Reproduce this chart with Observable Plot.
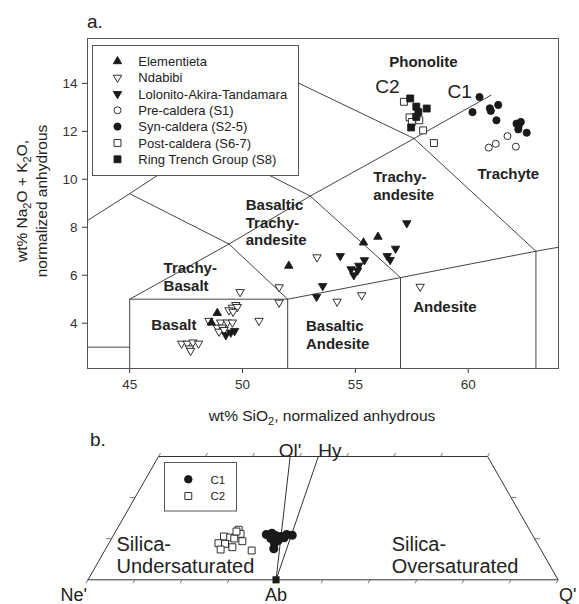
<!DOCTYPE html>
<html>
<head>
<meta charset="utf-8">
<script src="https://cdn.jsdelivr.net/npm/d3@7"></script>
<script src="https://cdn.jsdelivr.net/npm/@observablehq/plot@0.6"></script>
<style>
  html, body { margin: 0; padding: 0; background: #fff; }
  #root { position: relative; width: 579px; height: 604px; overflow: hidden; font-family: "Liberation Sans", Arial, sans-serif; }
  #root svg { position: absolute; left: 0; overflow: visible; }
</style>
</head>
<body>
<div id="root"></div>
<script>
// ---------- (a) Total-alkali vs silica, wt% normalized anhydrous: [SiO2, Na2O+K2O] ----------
const elementieta = [[48.88, 4.42], [48.62, 4.02], [52.05, 6.39], [55.36, 7.36], [56.0, 7.6]];
const ndabibi = [
  [47.3, 3.15], [47.55, 3.15], [47.8, 3.2], [48.05, 3.15], [47.65, 2.95], [47.7, 2.85],
  [49.89, 5.3], [49.7, 4.76], [49.55, 4.65], [49.77, 4.68], [49.4, 4.54], [49.58, 4.48],
  [48.51, 4.1], [49.03, 4.03], [49.33, 4.03], [49.55, 4.03], [48.88, 3.82], [49.1, 3.82],
  [48.96, 3.65], [49.18, 3.72], [50.73, 4.1], [51.62, 5.5], [51.62, 4.86], [53.3, 6.75],
  [54.19, 4.9], [55.28, 5.17], [57.87, 5.52]
];
const lolonito = [
  [49.26, 3.5], [49.48, 3.61], [49.65, 3.68],
  [53.28, 5.1], [53.55, 5.55], [54.33, 6.8], [54.81, 6.25], [54.93, 6.0], [55.1, 6.2],
  [55.15, 6.4], [55.4, 6.63], [56.41, 6.8], [56.54, 6.64], [56.78, 7.11], [57.28, 8.17]
];
const preCaldera = [[60.91, 11.32], [61.22, 11.48], [61.74, 11.8], [62.11, 11.36]];
const synCaldera = [
  [60.5, 13.43], [60.19, 12.8], [60.96, 12.96], [61.0, 12.85], [61.33, 13.1], [61.25, 12.46],
  [62.14, 12.32], [62.33, 12.39], [62.22, 12.08], [62.59, 11.94], [62.23, 12.2]
];
const postCaldera = [[57.15, 13.23], [57.4, 12.58], [57.83, 12.46], [57.5, 12.39], [58.0, 12.04], [58.48, 11.51]];
const ringTrench = [[57.43, 13.37], [57.7, 13.03], [58.16, 12.95], [57.79, 12.8], [57.47, 12.16], [57.7, 12.6]];

// TAS field boundaries (Le Bas et al., 1986), as polylines of [SiO2, alkali]
const tasBoundaries = [
  [[41, 3], [45, 3]],
  [[45, 0], [45, 5]],
  [[45, 5], [52, 5]],
  [[52, 0], [52, 5]],
  [[57, 0], [57, 5.9]],
  [[63, 0], [63, 7]],
  [[52, 5], [57, 5.9], [63, 7], [69, 8]],
  [[45, 5], [49.4, 7.3], [53, 9.3], [57.6, 11.7], [61, 13.5]],
  [[49.4, 7.3], [52, 5]],
  [[53, 9.3], [57, 5.9]],
  [[57.6, 11.7], [63, 7]],
  [[41, 7], [45, 9.4], [48.4, 11.5], [52.5, 14]],
  [[45, 9.4], [49.4, 7.3]],
  [[48.4, 11.5], [53, 9.3]],
  [[52.5, 14], [57.6, 11.7]]
];

// Field names, anchored at the start of the text in data units
const fieldNames = [
  {name: "Phonolite", sio2: 56.5, alk: 14.93},
  {name: "Trachyte", sio2: 60.41, alk: 10.26},
  {name: "Trachy-\nandesite", sio2: 55.79, alk: 9.74},
  {name: "Basaltic\nTrachy-\nandesite", sio2: 50.14, alk: 8.22},
  {name: "Trachy-\nBasalt", sio2: 46.5, alk: 5.95},
  {name: "Basalt", sio2: 45.96, alk: 3.97},
  {name: "Basaltic\nAndesite", sio2: 52.81, alk: 3.53},
  {name: "Andesite", sio2: 57.56, alk: 4.72}
];
const clusterNames = [
  {name: "C2", sio2: 55.88, alk: 13.85},
  {name: "C1", sio2: 59.08, alk: 13.64}
];

const xTicks = [45, 50, 55, 60];
const yTicks = [4, 6, 8, 10, 12, 14];

// ---------- (b) Ne'–Ol'–Q' projection (percent Q' and Ol'; Ne' is the rest) ----------
const c1Q  = [32.43, 33.45, 34.51, 35.81, 36.75, 38.02, 36.61, 35.69, 35.22, 35.75, 33.87];
const c1Ol = [11.02, 11.34, 10.78, 10.54, 11.02, 10.85, 10.22, 9.56, 8.91, 7.54, 10.05];
const c2Q  = [23.65, 25.10, 25.97, 26.86, 26.09, 28.14, 23.29, 24.77, 26.75, 24.53, 31.25, 25.71];
const c2Ol = [10.54, 10.29, 12.17, 11.19, 10.05, 9.39, 8.91, 8.76, 7.93, 7.37, 7.13, 11.75];
// reference compositions
const albite = {q: 40, ol: 0};
const olivine = {q: 0, ol: 100};
const hypersthene = {q: 25, ol: 75};
const olCut = 30; // upper edge of the drawn part of the triangle (Ol' %)
const ternTicks = [0, 10, 20, 30, 40, 50, 60, 70, 80, 90, 100];

// ---------- shared styling ----------
const FONT = "Liberation Sans, Arial, Helvetica, sans-serif";
const INK = "#1a1a1a";
const sqrt3 = Math.sqrt(3);
const triangleDown = {
  draw(context, size) {
    const y = -Math.sqrt(size / (sqrt3 * 3));
    context.moveTo(0, -y * 2);
    context.lineTo(-sqrt3 * y, y);
    context.lineTo(sqrt3 * y, y);
    context.closePath();
  }
};
const groups = [
  {name: "Elementieta", pts: elementieta, symbol: d3.symbolTriangle, filled: true, r: 3.1},
  {name: "Ndabibi", pts: ndabibi, symbol: triangleDown, filled: false, r: 3.1},
  {name: "Lolonito-Akira-Tandamara", pts: lolonito, symbol: triangleDown, filled: true, r: 3.1},
  {name: "Pre-caldera (S1)", pts: preCaldera, symbol: d3.symbolCircle, filled: false, r: 3.5},
  {name: "Syn-caldera (S2-5)", pts: synCaldera, symbol: d3.symbolCircle, filled: true, r: 3.6},
  {name: "Post-caldera (S6-7)", pts: postCaldera, symbol: d3.symbolSquare, filled: false, r: 3.9},
  {name: "Ring Trench Group (S8)", pts: ringTrench, symbol: d3.symbolSquare, filled: true, r: 3.9}
];
const drawOrder = [1, 0, 2, 3, 4, 5, 6];

const boundaryRows = tasBoundaries.flatMap((seg, id) => seg.map(([x, y]) => ({id, x, y})));

const tas = Plot.plot({
  width: 579,
  height: 430,
  marginLeft: 87,
  marginRight: 21,
  marginTop: 38,
  marginBottom: 62,
  style: {fontFamily: FONT, fontSize: "13.5px", color: "#333", background: "transparent"},
  x: {domain: [43.13, 64], ticks: xTicks, tickSize: 5, tickPadding: 6, label: null},
  y: {domain: [2.11, 15.87], ticks: yTicks, tickSize: 5, tickPadding: 5, label: null},
  marks: [
    Plot.frame({stroke: "#555", strokeWidth: 1}),
    Plot.line(boundaryRows, {x: "x", y: "y", z: "id", stroke: "#444", strokeWidth: 1, clip: true}),
    ...drawOrder.map((k) => {
      const g = groups[k];
      return Plot.dot(g.pts, {
        x: (d) => d[0], y: (d) => d[1], symbol: g.symbol, r: g.r,
        fill: g.filled ? INK : "white", stroke: INK, strokeWidth: 0.9
      });
    }),
    Plot.text(fieldNames, {
      x: "sio2", y: "alk", text: "name", textAnchor: "start", fontWeight: "bold",
      fontSize: 15, lineHeight: 1.17, fill: "#222"
    }),
    Plot.text(clusterNames, {
      x: "sio2", y: "alk", text: "name", textAnchor: "start", fontSize: 19, fill: "#222"
    })
  ]
});
tas.style.top = "0px";

// panel letter, axis titles and the legend of panel (a)
{
  const svg = d3.select(tas);
  svg.append("text").attr("x", 87).attr("y", 28).attr("text-anchor", "start")
    .attr("font-size", 19).attr("font-family", FONT).attr("fill", "#222").text("a.");

  const xt = svg.append("text").attr("x", 322).attr("y", 421).attr("text-anchor", "middle")
    .attr("font-size", 15.5).attr("font-family", FONT).attr("fill", "#222");
  xt.append("tspan").text("wt% SiO");
  xt.append("tspan").attr("dy", 4).attr("font-size", 11).text("2");
  xt.append("tspan").attr("dy", -4).text(", normalized anhydrous");

  const yt1 = svg.append("text").attr("transform", "translate(27,201) rotate(-90)")
    .attr("text-anchor", "middle").attr("font-size", 15.5).attr("font-family", FONT).attr("fill", "#222");
  yt1.append("tspan").text("wt% Na");
  yt1.append("tspan").attr("dy", 4).attr("font-size", 11).text("2");
  yt1.append("tspan").attr("dy", -4).text("O + K");
  yt1.append("tspan").attr("dy", 4).attr("font-size", 11).text("2");
  yt1.append("tspan").attr("dy", -4).text("O,");
  svg.append("text").attr("transform", "translate(47,201) rotate(-90)")
    .attr("text-anchor", "middle").attr("font-size", 15.5).attr("font-family", FONT).attr("fill", "#222")
    .text("normalized anhydrous");

  const lg = svg.append("g");
  lg.append("rect").attr("x", 92.5).attr("y", 45.5).attr("width", 206).attr("height", 130)
    .attr("fill", "white").attr("stroke", "#555").attr("stroke-width", 1);
  groups.forEach((g, i) => {
    const cy = 61.3 + i * 16.33;
    lg.append("path")
      .attr("d", d3.symbol(g.symbol, g.r * g.r * Math.PI)())
      .attr("transform", `translate(117.5,${cy})`)
      .attr("fill", g.filled ? INK : "white").attr("stroke", INK).attr("stroke-width", 0.9);
    lg.append("text").attr("x", 138.3).attr("y", cy + 4.6).attr("text-anchor", "start")
      .attr("font-size", 13).attr("font-family", FONT).attr("fill", "#222").text(g.name);
  });
}

// ---------- panel (b) ----------
const tx = (q, ol) => q + ol / 2;   // horizontal position along Ne'–Q'
const c1 = c1Q.map((q, i) => ({q, ol: c1Ol[i]}));
const c2 = c2Q.map((q, i) => ({q, ol: c2Ol[i]}));
const outline = [
  {q: 0, ol: 0}, {q: 100, ol: 0}, {q: 100 - olCut, ol: olCut}, {q: 0, ol: olCut}, {q: 0, ol: 0}
];
const joins = [
  {a: albite, b: olivine},
  {a: albite, b: hypersthene}
];
const olTop = {q: albite.q * (1 - olCut / 100), ol: olCut};
const hyT = olCut / hypersthene.ol;
const hyTop = {q: albite.q + (hypersthene.q - albite.q) * hyT, ol: olCut};

// tick marks around the trapezoid
const tk = 0.85;
const tickMarks = [
  ...ternTicks.map((v) => ({x: v, y: 0, dx: -tk / 2, dy: -tk})),
  ...ternTicks.filter((v) => v <= 100 - olCut).map((v) => ({x: tx(v, olCut), y: olCut, dx: tk / 2, dy: tk})),
  ...ternTicks.filter((v) => v > 0 && v < olCut).map((v) => ({x: tx(0, v), y: v, dx: -1.1, dy: 0})),
  ...ternTicks.filter((v) => v > 0 && v < olCut).map((v) => ({x: tx(100 - v, v), y: v, dx: 1.1, dy: 0}))
];

const vertexLabels = [
  {name: "Ne'", x: tx(0, 0), y: 0, anchor: "end", dx: -1, dy: 15},
  {name: "Ab", x: tx(albite.q, albite.ol), y: 0, anchor: "middle", dx: 0, dy: 15},
  {name: "Q'", x: tx(100, 0), y: 0, anchor: "start", dx: 1, dy: 15},
  {name: "Ol'", x: tx(olTop.q, olTop.ol), y: olCut, anchor: "middle", dx: 0, dy: -6},
  {name: "Hy", x: tx(hyTop.q, hyTop.ol), y: olCut, anchor: "start", dx: 0, dy: -6}
];
const regionNames = [
  {name: "Silica-\nUndersaturated", x: 6.06, y: 6.16},
  {name: "Silica-\nOversaturated", x: 64.6, y: 6.16}
];

const tern = Plot.plot({
  width: 579,
  height: 174,
  marginLeft: 87.5,
  marginRight: 21.4,
  marginTop: 26,
  marginBottom: 24.7,
  style: {fontFamily: FONT, background: "transparent"},
  x: {domain: [0, 100], axis: null},
  y: {domain: [0, olCut], axis: null},
  marks: [
    Plot.line(outline, {x: (d) => tx(d.q, d.ol), y: "ol", stroke: "#333", strokeWidth: 1}),
    Plot.link(joins, {
      x1: (d) => tx(d.a.q, d.a.ol), y1: (d) => d.a.ol,
      x2: (d) => tx(d.b.q, d.b.ol), y2: (d) => d.b.ol,
      stroke: "#333", strokeWidth: 1, clip: true
    }),
    Plot.link(tickMarks, {
      x1: "x", y1: "y", x2: (d) => d.x + d.dx, y2: (d) => d.y + d.dy, stroke: "#555", strokeWidth: 0.8
    }),
    Plot.dot(c2, {x: (d) => tx(d.q, d.ol), y: "ol", symbol: "square", r: 3.9, fill: "white", stroke: INK, strokeWidth: 0.9}),
    Plot.dot(c1, {x: (d) => tx(d.q, d.ol), y: "ol", symbol: "circle", r: 3.8, fill: INK, stroke: INK}),
    Plot.dot([albite], {x: (d) => tx(d.q, d.ol), y: "ol", symbol: "square", r: 4, fill: INK}),
    ...vertexLabels.map((v, i) => Plot.text([v], {
      x: "x", y: "y", text: "name", textAnchor: v.anchor, dx: v.dx, dy: v.dy,
      fontSize: i < 3 ? 18 : 19, fill: "#222"
    })),
    Plot.text(regionNames, {x: "x", y: "y", text: "name", textAnchor: "start", fontSize: 20, lineHeight: 1.1, fill: "#222"})
  ]
});
tern.style.top = "430px";

{
  const svg = d3.select(tern);
  svg.append("text").attr("x", 90).attr("y", 16).attr("text-anchor", "start")
    .attr("font-size", 19).attr("font-family", FONT).attr("fill", "#222").text("b.");
  const lg = svg.append("g");
  lg.append("rect").attr("x", 164.5).attr("y", 32.5).attr("width", 72).attr("height", 48.5)
    .attr("fill", "white").attr("stroke", "#555").attr("stroke-width", 1);
  const items = [
    {name: "C1", symbol: d3.symbolCircle, filled: true, r: 3.8},
    {name: "C2", symbol: d3.symbolSquare, filled: false, r: 3.9}
  ];
  items.forEach((it, i) => {
    const cy = 49.3 + i * 16.7;
    lg.append("path").attr("d", d3.symbol(it.symbol, it.r * it.r * Math.PI)())
      .attr("transform", `translate(188.3,${cy})`)
      .attr("fill", it.filled ? INK : "white").attr("stroke", INK).attr("stroke-width", 0.9);
    lg.append("text").attr("x", 210.5).attr("y", cy + 4.2).attr("text-anchor", "start")
      .attr("font-size", 11.5).attr("font-family", FONT).attr("fill", "#222").text(it.name);
  });
}

const root = document.getElementById("root");
root.appendChild(tas);
root.appendChild(tern);
</script>
</body>
</html>
